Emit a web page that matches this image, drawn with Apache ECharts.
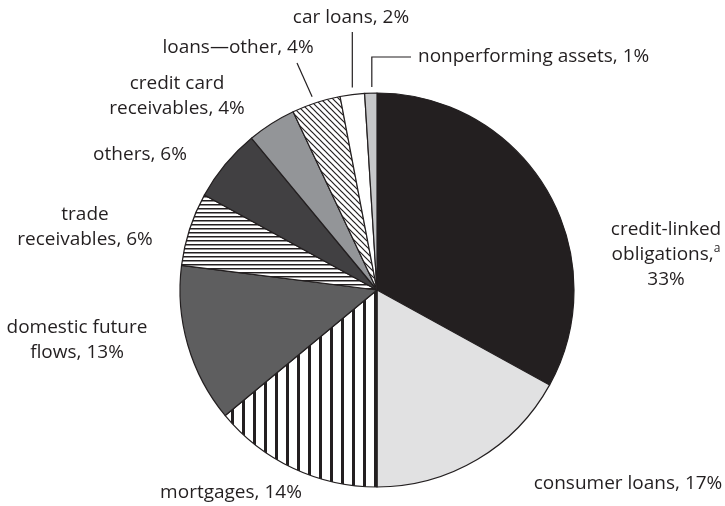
<!DOCTYPE html>
<html>
<head>
<meta charset="utf-8">
<script src="https://cdn.jsdelivr.net/npm/echarts@6/dist/echarts.min.js"></script>
<style>
  html, body { margin: 0; padding: 0; background: #fff; }
  #chart { width: 725px; height: 506px; }
</style>
</head>
<body>
<div id="chart"></div>
<script>
const categories = [
  'credit-linked obligations',
  'consumer loans',
  'mortgages',
  'domestic future flows',
  'trade receivables',
  'others',
  'credit card receivables',
  'loans\u2014other',
  'car loans',
  'nonperforming assets'
];
const shares = [33, 17, 14, 13, 6, 6, 4, 4, 2, 1];
const labelTexts = [
  'credit-linked\nobligations,{sup|a}\n33%',
  'consumer loans, 17%',
  'mortgages, 14%',
  'domestic future\nflows, 13%',
  'trade\nreceivables, 6%',
  'others, 6%',
  'credit card\nreceivables, 4%',
  'loans\u2014other, 4%',
  'car loans, 2%',
  'nonperforming assets, 1%'
];

const ink = '#231f20';
const cx = 377, cy = 290, R = 197;

function makePattern(size, draw) {
  const c = document.createElement('canvas');
  c.width = size[0];
  c.height = size[1];
  const g = c.getContext('2d');
  g.fillStyle = '#fff';
  g.fillRect(0, 0, size[0], size[1]);
  g.fillStyle = ink;
  g.strokeStyle = ink;
  draw(g, size[0], size[1]);
  return { image: c, repeat: 'repeat' };
}

const vertical = makePattern([11, 11], (g, w, h) => { g.fillRect(0, 0, 3, h); });
const horizontal = makePattern([8, 4], (g, w, h) => { g.fillRect(0, 0, w, 1.5); });
const diagonal = makePattern([6, 6], (g, w, h) => {
  g.lineWidth = 1.2;
  for (let k = -1; k <= 1; k++) {
    g.beginPath();
    g.moveTo(-1 + k * w, -1);
    g.lineTo(w + 1 + k * w, h + 1);
    g.stroke();
  }
});

const fills = [ink, '#e1e1e2', vertical, '#5e5e5f', horizontal, '#414042', '#939598', diagonal, '#ffffff', '#c6c7c9'];

// label anchors (positions only)
const labelPos = [
  { x: 666, y: 255, align: 'center' },
  { x: 628, y: 484, align: 'center' },
  { x: 231, y: 493, align: 'center' },
  { x: 77, y: 340, align: 'center' },
  { x: 85, y: 227, align: 'center' },
  { x: 140, y: 155, align: 'center' },
  { x: 177, y: 96, align: 'center' },
  { x: 238, y: 48, align: 'center' },
  { x: 351, y: 18, align: 'center' },
  { x: 418, y: 57, align: 'left' }
];

const total = shares.reduce((a, b) => a + b, 0);
function edgePoint(i) {
  let cum = 0;
  for (let k = 0; k < i; k++) cum += shares[k];
  const t = ((cum + shares[i] / 2) / total) * Math.PI * 2;
  return [cx + R * Math.sin(t), cy - R * Math.cos(t)];
}

function leader(i) {
  const p = edgePoint(i);
  if (i === 7) return [[p[0] - 4, p[1] - 6], [297, 63]];
  if (i === 8) return [[p[0], p[1] - 7], [p[0], 32]];
  if (i === 9) return [[p[0] + 1, p[1] - 6], [p[0] + 1, 57], [411, 57]];
  return null;
}

const chart = echarts.init(document.getElementById('chart'), null, { renderer: 'canvas' });

chart.setOption({
  animation: false,
  backgroundColor: '#fff',
  series: [{
    type: 'pie',
    center: [cx, cy],
    radius: R,
    startAngle: 90,
    clockwise: true,
    avoidLabelOverlap: false,
    itemStyle: { borderColor: ink, borderWidth: 1.2 },
    label: {
      show: true,
      position: 'outside',
      color: ink,
      fontFamily: 'Open Sans',
      fontSize: 19,
      lineHeight: 25,
      align: 'center',
      rich: {
        sup: { fontSize: 12, verticalAlign: 'top', lineHeight: 25, color: ink, fontFamily: 'Open Sans', padding: [0, 0, 10, 0] }
      },
      formatter: (p) => labelTexts[p.dataIndex]
    },
    labelLine: { show: false, lineStyle: { color: ink, width: 1.2 } },
    labelLayout: (params) => {
      const i = params.dataIndex;
      const pos = labelPos[i];
      const out = { x: pos.x, y: pos.y, align: pos.align, verticalAlign: 'middle' };
      const pts = leader(i);
      if (pts) out.labelLinePoints = pts;
      return out;
    },
    emphasis: { disabled: true },
    data: categories.map((name, i) => ({
      name: name,
      value: shares[i],
      itemStyle: { color: fills[i] },
      labelLine: { show: leader(i) !== null }
    }))
  }]
});
</script>
</body>
</html>
